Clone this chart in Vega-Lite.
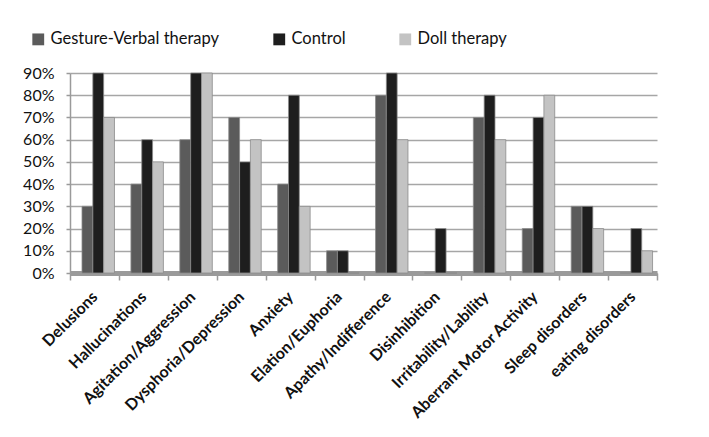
{
  "$schema": "https://vega.github.io/schema/vega-lite/v6.json",
  "width": 587,
  "height": 200,
  "autosize": {"type": "none"},
  "padding": {"left": 70, "top": 73, "right": 52, "bottom": 164},
  "background": "white",
  "data": {
    "values": [
      {"symptom": "Delusions", "group": "Gesture-Verbal therapy", "value": 0.3},
      {"symptom": "Delusions", "group": "Control", "value": 0.9},
      {"symptom": "Delusions", "group": "Doll therapy", "value": 0.7},
      {"symptom": "Hallucinations", "group": "Gesture-Verbal therapy", "value": 0.4},
      {"symptom": "Hallucinations", "group": "Control", "value": 0.6},
      {"symptom": "Hallucinations", "group": "Doll therapy", "value": 0.5},
      {"symptom": "Agitation/Aggression", "group": "Gesture-Verbal therapy", "value": 0.6},
      {"symptom": "Agitation/Aggression", "group": "Control", "value": 0.9},
      {"symptom": "Agitation/Aggression", "group": "Doll therapy", "value": 0.9},
      {"symptom": "Dysphoria/Depression", "group": "Gesture-Verbal therapy", "value": 0.7},
      {"symptom": "Dysphoria/Depression", "group": "Control", "value": 0.5},
      {"symptom": "Dysphoria/Depression", "group": "Doll therapy", "value": 0.6},
      {"symptom": "Anxiety", "group": "Gesture-Verbal therapy", "value": 0.4},
      {"symptom": "Anxiety", "group": "Control", "value": 0.8},
      {"symptom": "Anxiety", "group": "Doll therapy", "value": 0.3},
      {"symptom": "Elation/Euphoria", "group": "Gesture-Verbal therapy", "value": 0.1},
      {"symptom": "Elation/Euphoria", "group": "Control", "value": 0.1},
      {"symptom": "Elation/Euphoria", "group": "Doll therapy", "value": 0.0},
      {"symptom": "Apathy/Indifference", "group": "Gesture-Verbal therapy", "value": 0.8},
      {"symptom": "Apathy/Indifference", "group": "Control", "value": 0.9},
      {"symptom": "Apathy/Indifference", "group": "Doll therapy", "value": 0.6},
      {"symptom": "Disinhibition", "group": "Gesture-Verbal therapy", "value": 0.0},
      {"symptom": "Disinhibition", "group": "Control", "value": 0.2},
      {"symptom": "Disinhibition", "group": "Doll therapy", "value": 0.0},
      {"symptom": "Irritability/Lability", "group": "Gesture-Verbal therapy", "value": 0.7},
      {"symptom": "Irritability/Lability", "group": "Control", "value": 0.8},
      {"symptom": "Irritability/Lability", "group": "Doll therapy", "value": 0.6},
      {"symptom": "Aberrant Motor Activity", "group": "Gesture-Verbal therapy", "value": 0.2},
      {"symptom": "Aberrant Motor Activity", "group": "Control", "value": 0.7},
      {"symptom": "Aberrant Motor Activity", "group": "Doll therapy", "value": 0.8},
      {"symptom": "Sleep disorders", "group": "Gesture-Verbal therapy", "value": 0.3},
      {"symptom": "Sleep disorders", "group": "Control", "value": 0.3},
      {"symptom": "Sleep disorders", "group": "Doll therapy", "value": 0.2},
      {"symptom": "eating disorders", "group": "Gesture-Verbal therapy", "value": 0.0},
      {"symptom": "eating disorders", "group": "Control", "value": 0.2},
      {"symptom": "eating disorders", "group": "Doll therapy", "value": 0.1}
    ]
  },
  "mark": {"type": "bar", "stroke": "#8c8c8c", "strokeWidth": 0.8},
  "encoding": {
    "x": {
      "field": "symptom",
      "type": "nominal",
      "sort": null,
      "scale": {"paddingInner": 0, "paddingOuter": 0},
      "axis": {
        "title": null,
        "labelAngle": -45,
        "labelAlign": "right",
        "labelBaseline": "middle",
        "labelFont": "Lato",
        "labelFontWeight": "bold",
        "labelFontSize": 16,
        "labelColor": "#111111",
        "labelPadding": 14,
        "labelLimit": 300,
        "tickBand": "extent",
        "tickSize": 7,
        "tickColor": "#9a9a9a",
        "tickWidth": 1.5,
        "domainColor": "#9a9a9a",
        "domainWidth": 5,
        "grid": false
      }
    },
    "xOffset": {
      "field": "group",
      "type": "nominal",
      "sort": ["Gesture-Verbal therapy", "Control", "Doll therapy"],
      "scale": {"paddingInner": 0, "paddingOuter": 0.76, "align": 0.73}
    },
    "y": {
      "field": "value",
      "type": "quantitative",
      "scale": {"domain": [0, 0.9], "nice": false},
      "axis": {
        "title": null,
        "format": ".0%",
        "values": [0, 0.1, 0.2, 0.3, 0.4, 0.5, 0.6, 0.7, 0.8, 0.9],
        "labelFont": "Lato",
        "labelFontSize": 16,
        "labelColor": "#111111",
        "labelPadding": 12,
        "tickSize": 4,
        "tickColor": "#9a9a9a",
        "tickWidth": 1.5,
        "domainColor": "#9a9a9a",
        "domainWidth": 1.5,
        "grid": true,
        "gridColor": "#a6a6a6",
        "gridWidth": 1.5
      }
    },
    "color": {
      "field": "group",
      "type": "nominal",
      "sort": ["Gesture-Verbal therapy", "Control", "Doll therapy"],
      "scale": {
        "domain": ["Gesture-Verbal therapy", "Control", "Doll therapy"],
        "range": ["#5b5b5b", "#1e1e1e", "#c3c3c3"]
      },
      "legend": {
        "title": null,
        "orient": "none",
        "legendX": -40,
        "legendY": -42,
        "direction": "horizontal",
        "columnPadding": 51,
        "symbolType": "square",
        "symbolSize": 140,
        "symbolStrokeWidth": 0,
        "labelFont": "Lato",
        "labelFontSize": 16.5,
        "labelColor": "#111111",
        "labelOffset": 4,
        "labelLimit": 400
      }
    }
  },
  "config": {"view": {"stroke": null}}
}
